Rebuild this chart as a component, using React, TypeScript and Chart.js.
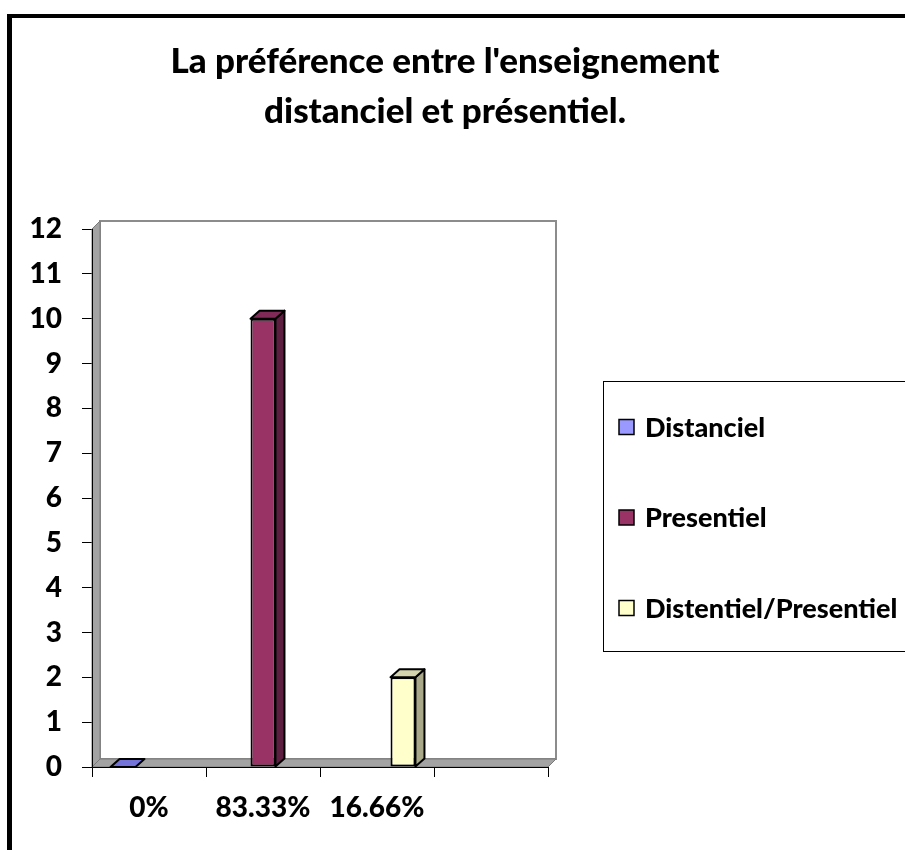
import { useEffect, useRef } from 'react';
import { Chart, registerables } from 'chart.js';

Chart.register(...registerables);

const TITLE_LINES = ["La préférence entre l'enseignement", 'distanciel et présentiel.'];
const CATEGORIES = ['0%', '83.33%', '16.66%', ''];
const SERIES_NAMES = ['Distanciel', 'Presentiel', 'Distentiel/Presentiel'];
const DISTANCIEL = [0, null, null, null];
const PRESENTIEL = [null, 10, null, null];
const MIXTE = [null, null, 2, null];
const Y_MIN = 0;
const Y_MAX = 12;
const Y_STEP = 1;

const FRONT_COLORS = ['#9999FF', '#993366', '#FFFFCC'];
const TOP_COLORS = ['#7373D9', '#7F2A57', '#D4D4AE'];
const SIDE_COLORS = ['#6666B3', '#5C1F3F', '#A9A98A'];

const FONT = 'Lato, "Open Sans", sans-serif';
const WEIGHT = '900';

const WALL_DX = 8;
const WALL_DY = -8;
const BAR_DX = 9;
const BAR_DY = -8;

function poly(ctx: CanvasRenderingContext2D, pts: number[][], fill: string | null, stroke: string | null, lw = 1) {
  ctx.beginPath();
  ctx.moveTo(pts[0][0], pts[0][1]);
  for (let i = 1; i < pts.length; i++) ctx.lineTo(pts[i][0], pts[i][1]);
  ctx.closePath();
  if (fill) {
    ctx.fillStyle = fill;
    ctx.fill();
  }
  if (stroke) {
    ctx.strokeStyle = stroke;
    ctx.lineWidth = lw;
    ctx.lineJoin = 'round';
    ctx.stroke();
  }
}

const excel3D = {
  id: 'excel3D',
  beforeDraw(chart: any) {
    const ctx = chart.ctx as CanvasRenderingContext2D;
    ctx.save();
    ctx.fillStyle = '#fff';
    ctx.fillRect(0, 0, chart.width, chart.height);
    ctx.restore();
  },
  beforeDatasetsDraw(chart: any) {
    const ctx = chart.ctx as CanvasRenderingContext2D;
    const { left, right, top, bottom } = chart.chartArea;
    ctx.save();
    // back wall
    ctx.fillStyle = '#fff';
    ctx.fillRect(left + WALL_DX, top + WALL_DY, right - left, bottom - top);
    ctx.strokeStyle = '#8c8c8c';
    ctx.lineWidth = 2;
    ctx.strokeRect(left + WALL_DX, top + WALL_DY, right - left, bottom - top);
    // side wall
    poly(ctx, [[left, bottom], [left, top], [left + WALL_DX, top + WALL_DY], [left + WALL_DX, bottom + WALL_DY]], '#a3a3a3', '#7a7a7a', 1);
    // floor
    poly(ctx, [[left, bottom], [right, bottom], [right + WALL_DX, bottom + WALL_DY], [left + WALL_DX, bottom + WALL_DY]], '#a3a3a3', '#7a7a7a', 1);
    // dark front edges (axes)
    ctx.strokeStyle = '#000';
    ctx.lineWidth = 1;
    ctx.beginPath();
    ctx.moveTo(left + 0.5, top);
    ctx.lineTo(left + 0.5, bottom + 0.5);
    ctx.lineTo(right, bottom + 0.5);
    ctx.stroke();
    ctx.restore();
  },
  afterDatasetsDraw(chart: any) {
    const ctx = chart.ctx as CanvasRenderingContext2D;
    ctx.save();
    chart.data.datasets.forEach((ds: any, di: number) => {
      const meta = chart.getDatasetMeta(di);
      meta.data.forEach((bar: any, i: number) => {
        if (ds.data[i] === null || ds.data[i] === undefined) return;
        const { x, y, base, width } = bar.getProps(['x', 'y', 'base', 'width'], true);
        const l = x - width / 2;
        const r = x + width / 2;
        if (base - y > 0.5) {
          poly(ctx, [[r, y], [r + BAR_DX, y + BAR_DY], [r + BAR_DX, base + BAR_DY], [r, base]], SIDE_COLORS[di], '#000', 2);
        }
        poly(ctx, [[l, y], [l + BAR_DX, y + BAR_DY], [r + BAR_DX, y + BAR_DY], [r, y]], TOP_COLORS[di], '#000', 2);
      });
    });
    ctx.restore();
  },
  afterDraw(chart: any) {
    const ctx = chart.ctx as CanvasRenderingContext2D;
    ctx.save();
    // outer frame (thick black left and top)
    ctx.fillStyle = '#000';
    ctx.fillRect(7, 14, 5, chart.height - 14);
    ctx.fillRect(7, 14, chart.width - 7, 4);

    // title
    ctx.fillStyle = '#000';
    ctx.textAlign = 'center';
    ctx.textBaseline = 'middle';
    ctx.font = `${WEIGHT} 35px ${FONT}`;
    TITLE_LINES.forEach((line, i) => ctx.fillText(line, 445, 62 + i * 50));

    // legend
    ctx.strokeStyle = '#000';
    ctx.lineWidth = 1;
    ctx.strokeRect(603.5, 381.5, 400, 270);
    ctx.textAlign = 'left';
    ctx.font = `${WEIGHT} 27px ${FONT}`;
    SERIES_NAMES.forEach((name, i) => {
      const cy = 427 + i * 90.5;
      ctx.fillStyle = FRONT_COLORS[i];
      ctx.fillRect(619, cy - 7.5, 15, 15);
      ctx.lineWidth = 1.5;
      ctx.strokeRect(619, cy - 7.5, 15, 15);
      ctx.fillStyle = '#000';
      ctx.fillText(name, 645, cy + 1);
    });
    ctx.restore();
  },
};

export default function App() {
  const canvasRef = useRef<HTMLCanvasElement | null>(null);

  useEffect(() => {
    if (!canvasRef.current) return;
    const seriesData = [DISTANCIEL, PRESENTIEL, MIXTE];
    const chart = new Chart(canvasRef.current, {
      type: 'bar',
      data: {
        labels: CATEGORIES,
        datasets: SERIES_NAMES.map((name, i) => ({
          label: name,
          data: seriesData[i],
          backgroundColor: FRONT_COLORS[i],
          borderColor: '#000',
          borderWidth: 2,
          borderSkipped: false,
          categoryPercentage: 0.684,
          barPercentage: 0.96,
        })),
      },
      options: {
        animation: false,
        responsive: true,
        maintainAspectRatio: false,
        layout: { padding: { left: 20, top: 229, right: 357, bottom: 0 } },
        plugins: {
          legend: { display: false },
          title: { display: false },
          tooltip: { enabled: false },
        },
        scales: {
          x: {
            type: 'category',
            offset: true,
            grid: { display: true, offset: true, drawOnChartArea: false, drawTicks: true, tickLength: 10, color: '#000', lineWidth: 1 },
            border: { display: true, color: '#000' },
            ticks: { font: { family: FONT, weight: WEIGHT, size: 28 }, color: '#000', padding: 14, maxRotation: 0, autoSkip: false },
            afterFit: (s: any) => { s.height = 83; },
          },
          y: {
            min: Y_MIN,
            max: Y_MAX,
            ticks: { stepSize: Y_STEP, font: { family: FONT, weight: WEIGHT, size: 28 }, color: '#000', padding: 20 },
            grid: { display: true, drawOnChartArea: false, drawTicks: true, tickLength: 10, color: '#000' },
            border: { display: true, color: '#000' },
            afterFit: (s: any) => { s.width = 72; },
          },
        },
      } as any,
      plugins: [excel3D],
    });
    return () => chart.destroy();
  }, []);

  return (
    <div style={{ position: 'absolute', left: 0, top: 0, width: 905, height: 850 }}>
      <canvas ref={canvasRef} />
    </div>
  );
}
